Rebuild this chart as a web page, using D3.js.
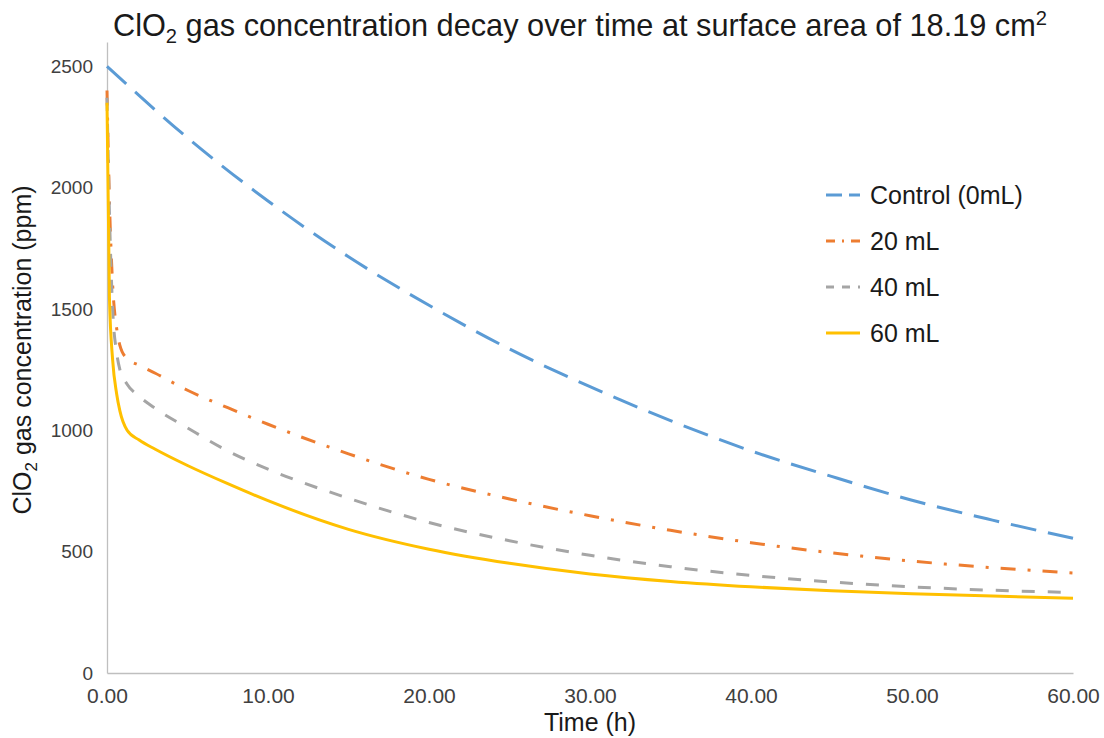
<!DOCTYPE html>
<html>
<head>
<meta charset="utf-8">
<script src="https://cdn.jsdelivr.net/npm/d3@7"></script>
<style>
  html, body { margin: 0; padding: 0; background: #ffffff; }
  svg { display: block; font-family: "Liberation Sans", Arial, sans-serif; }
</style>
</head>
<body>
<svg id="chart" width="1104" height="738"></svg>
<script>
// Control chamber (no absorbent), readings every 5 h
const controlTime = [0, 5, 10, 15, 20, 25, 30, 35, 40, 45, 50, 55, 60];
const controlPpm  = [2500, 2205, 1945, 1715, 1515, 1335, 1180, 1040, 915, 810, 712, 630, 555];

// Absorbent runs share a denser schedule for the fast initial drop
const runTime = [0, 0.15, 0.35, 0.6, 0.8, 1.25, 2, 3, 5, 7.5, 10, 15, 20, 25, 30, 35, 40, 45, 50, 55, 60];
const ppm20mL = [2400, 1950, 1600, 1420, 1350, 1295, 1268, 1235, 1165, 1093, 1025, 903, 798, 717, 648, 588, 537, 495, 461, 434, 412];
const ppm40mL = [2370, 1900, 1500, 1320, 1250, 1190, 1140, 1090, 1010, 915, 840, 720, 620, 545, 485, 438, 402, 375, 355, 341, 332];
const ppm60mL = [2350, 1550, 1290, 1150, 1080, 1000, 960, 922, 855, 780, 710, 592, 510, 452, 408, 377, 355, 339, 327, 317, 308];

const seriesNames = ["Control (0mL)", "20 mL", "40 mL", "60 mL"];
const xTicks = [0, 10, 20, 30, 40, 50, 60];
const yTicks = [0, 500, 1000, 1500, 2000, 2500];

const series = [
  { name: seriesNames[0], t: controlTime, v: controlPpm, color: "#5b9bd5", dash: "26,12", width: 3 },
  { name: seriesNames[1], t: runTime, v: ppm20mL, color: "#ed7d31", dash: "15,12,3,12", width: 3 },
  { name: seriesNames[2], t: runTime, v: ppm40mL, color: "#a5a5a5", dash: "13,13", width: 3 },
  { name: seriesNames[3], t: runTime, v: ppm60mL, color: "#ffc000", dash: null, width: 3 }
];

const svg = d3.select("#chart");
const x = d3.scaleLinear().domain([0, 60]).range([107, 1073]);
const y = d3.scaleLinear().domain([0, 2600]).range([673, 42]);

// Axes
const axisColor = "#bfbfbf";
const tickColor = "#404040";

const gx = svg.append("g")
  .attr("transform", `translate(0,${y(0)})`)
  .call(d3.axisBottom(x).tickValues(xTicks).tickFormat(d3.format(".2f")).tickSize(0).tickPadding(15));
gx.select(".domain").attr("stroke", axisColor).attr("stroke-width", 1.3);
gx.selectAll("text").attr("fill", tickColor).attr("font-size", 21).attr("font-family", "Liberation Sans, Arial, sans-serif");

const gy = svg.append("g")
  .attr("transform", `translate(${x(0)},0)`)
  .call(d3.axisLeft(y).tickValues(yTicks).tickFormat(d3.format("d")).tickSize(0).tickPadding(14));
gy.select(".domain").attr("stroke", axisColor).attr("stroke-width", 1.3);
gy.selectAll("text").attr("fill", tickColor).attr("font-size", 19).attr("font-family", "Liberation Sans, Arial, sans-serif");

// Decay curves
const line = d3.line()
  .x(d => x(d[0]))
  .y(d => y(d[1]))
  .curve(d3.curveMonotoneX);

series.forEach(s => {
  const pts = s.t.map((t, i) => [t, s.v[i]]);
  svg.append("path")
    .datum(pts)
    .attr("fill", "none")
    .attr("stroke", s.color)
    .attr("stroke-width", s.width)
    .attr("stroke-dasharray", s.dash)
    .attr("d", line);
});

// Title (slightly condensed face)
const title = svg.append("text")
  .attr("transform", "translate(580,36) scale(0.96,1)")
  .attr("text-anchor", "middle")
  .attr("font-size", 32)
  .attr("fill", "#1a1a1a");
title.append("tspan").text("ClO");
title.append("tspan").text("2").attr("font-size", 21).attr("dy", 7);
title.append("tspan").text(" gas concentration decay over time at surface area of 18.19 cm").attr("dy", -7);
title.append("tspan").text("2").attr("font-size", 21).attr("dy", -11);

// Axis titles
svg.append("text")
  .attr("x", 590).attr("y", 731)
  .attr("text-anchor", "middle")
  .attr("font-size", 25)
  .attr("fill", "#1a1a1a")
  .text("Time (h)");

const yTitle = svg.append("text")
  .attr("transform", "translate(31,350) rotate(-90)")
  .attr("text-anchor", "middle")
  .attr("font-size", 25)
  .attr("fill", "#1a1a1a");
yTitle.append("tspan").text("ClO");
yTitle.append("tspan").text("2").attr("font-size", 17).attr("dy", 6);
yTitle.append("tspan").text(" gas concentration (ppm)").attr("dy", -6);

// Legend
const legend = svg.append("g").attr("transform", "translate(826,195)");
series.forEach((s, i) => {
  const row = legend.append("g").attr("transform", `translate(0,${i * 46})`);
  row.append("line")
    .attr("x1", 0).attr("x2", 34).attr("y1", 0).attr("y2", 0)
    .attr("stroke", s.color).attr("stroke-width", s.width)
    .attr("stroke-dasharray", s.dash ? s.dash.split(",").map(v => Math.round(v * 0.6)).join(",") : null);
  row.append("text")
    .attr("x", 44).attr("y", 0).attr("dy", "0.35em")
    .attr("font-size", 25)
    .attr("fill", "#1a1a1a")
    .text(s.name);
});
</script>
</body>
</html>
